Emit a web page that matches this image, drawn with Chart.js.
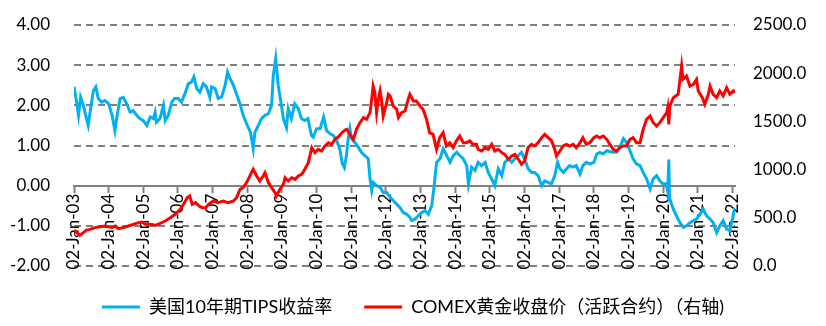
<!DOCTYPE html>
<html>
<head>
<meta charset="utf-8">
<script src="https://cdn.jsdelivr.net/npm/chart.js@4.4.1/dist/chart.umd.min.js"></script>
<style>
  html, body { margin: 0; padding: 0; background: #fff; }
  #wrap { width: 826px; height: 326px; }
</style>
</head>
<body>
<div id="wrap"><canvas id="chart"></canvas></div>
<script>
// x axis ticks (start of each year)
const tickYears = [2003, 2004, 2005, 2006, 2007, 2008, 2009, 2010, 2011, 2012,
  2013, 2014, 2015, 2016, 2017, 2018, 2019, 2020, 2021, 2022];
const tickLabels = ['02-Jan-03', '02-Jan-04', '02-Jan-05', '02-Jan-06', '02-Jan-07',
  '02-Jan-08', '02-Jan-09', '02-Jan-10', '02-Jan-11', '02-Jan-12', '02-Jan-13',
  '02-Jan-14', '02-Jan-15', '02-Jan-16', '02-Jan-17', '02-Jan-18', '02-Jan-19',
  '02-Jan-20', '02-Jan-21', '02-Jan-22'];

// 美国10年期TIPS收益率 (left axis)
const tipsYear = [
  2003.00, 2003.06, 2003.13, 2003.19, 2003.27, 2003.36, 2003.41, 2003.48, 2003.56, 2003.63,
  2003.70, 2003.80, 2003.89, 2004.00, 2004.10, 2004.18, 2004.23, 2004.33, 2004.42, 2004.52,
  2004.62, 2004.71, 2004.81, 2004.90, 2005.00, 2005.10, 2005.20, 2005.29, 2005.34, 2005.38,
  2005.48, 2005.58, 2005.63, 2005.72, 2005.82, 2005.90, 2006.00, 2006.10, 2006.20, 2006.30,
  2006.39, 2006.46, 2006.54, 2006.63, 2006.73, 2006.82, 2006.92, 2006.97, 2007.07, 2007.16,
  2007.26, 2007.36, 2007.43, 2007.50, 2007.60, 2007.70, 2007.79, 2007.88, 2008.00, 2008.09,
  2008.17, 2008.22, 2008.32, 2008.41, 2008.51, 2008.61, 2008.70, 2008.75, 2008.82, 2008.89,
  2008.97, 2009.04, 2009.13, 2009.18, 2009.27, 2009.37, 2009.47, 2009.56, 2009.66, 2009.75,
  2009.85, 2009.90, 2010.00, 2010.10, 2010.20, 2010.29, 2010.39, 2010.48, 2010.58, 2010.67,
  2010.74, 2010.80, 2010.86, 2010.91, 2010.96, 2011.01, 2011.10, 2011.20, 2011.29, 2011.39,
  2011.49, 2011.54, 2011.59, 2011.63, 2011.73, 2011.83, 2011.92, 2012.02, 2012.12, 2012.21,
  2012.31, 2012.40, 2012.50, 2012.60, 2012.69, 2012.74, 2012.84, 2012.93, 2013.03, 2013.13,
  2013.22, 2013.32, 2013.38, 2013.46, 2013.56, 2013.65, 2013.75, 2013.85, 2013.94, 2014.04,
  2014.13, 2014.23, 2014.33, 2014.38, 2014.47, 2014.57, 2014.66, 2014.76, 2014.86, 2014.95,
  2015.05, 2015.14, 2015.24, 2015.34, 2015.43, 2015.53, 2015.63, 2015.72, 2015.82, 2015.91,
  2016.00, 2016.10, 2016.20, 2016.29, 2016.39, 2016.49, 2016.58, 2016.68, 2016.77, 2016.87,
  2016.95, 2017.02, 2017.12, 2017.21, 2017.30, 2017.39, 2017.49, 2017.60, 2017.68, 2017.78,
  2017.88, 2018.00, 2018.08, 2018.17, 2018.27, 2018.37, 2018.46, 2018.56, 2018.65, 2018.75,
  2018.85, 2018.94, 2019.04, 2019.13, 2019.23, 2019.33, 2019.42, 2019.52, 2019.62, 2019.71,
  2019.81, 2019.90, 2020.00, 2020.08, 2020.13, 2020.16, 2020.18, 2020.24, 2020.29, 2020.38,
  2020.48, 2020.58, 2020.67, 2020.77, 2020.87, 2020.96, 2021.06, 2021.15, 2021.25, 2021.35,
  2021.44, 2021.54, 2021.63, 2021.73, 2021.83, 2021.92, 2022.00, 2022.06
];
const tipsYield = [
  2.46, 2.17, 1.75, 2.20, 2.00, 1.67, 1.50, 1.92, 2.37, 2.46,
  2.17, 2.08, 2.12, 2.04, 1.75, 1.37, 1.67, 2.17, 2.20, 2.04,
  1.83, 1.87, 1.75, 1.67, 1.62, 1.50, 1.71, 1.67, 1.83, 1.58,
  1.67, 2.00, 1.62, 1.75, 2.08, 2.17, 2.17, 2.08, 2.29, 2.54,
  2.58, 2.71, 2.42, 2.33, 2.54, 2.46, 2.20, 2.46, 2.42, 2.17,
  2.21, 2.50, 2.83, 2.67, 2.50, 2.25, 2.04, 1.75, 1.50, 1.33,
  0.92, 1.33, 1.50, 1.67, 1.75, 1.79, 2.00, 2.75, 3.17, 2.50,
  2.08, 1.67, 1.45, 1.92, 1.67, 2.04, 1.92, 1.67, 1.62, 1.67,
  1.25, 1.21, 1.42, 1.42, 1.71, 1.37, 1.29, 1.25, 1.12, 0.90,
  0.55, 0.45, 0.75, 1.17, 1.42, 1.17, 1.08, 0.96, 0.83, 0.75,
  0.67, 0.17, -0.12, 0.08, 0.00, -0.04, -0.17, -0.17, -0.29, -0.37,
  -0.46, -0.54, -0.67, -0.71, -0.79, -0.87, -0.83, -0.75, -0.67, -0.62,
  -0.71, -0.50, -0.08, 0.58, 0.67, 0.92, 0.75, 0.58, 0.75, 0.83,
  0.75, 0.67, 0.50, 0.04, 0.46, 0.38, 0.58, 0.50, 0.58, 0.33,
  0.17, 0.00, 0.42, 0.25, 0.58, 0.67, 0.58, 0.67, 0.75, 0.83,
  0.67, 0.42, 0.33, 0.33, 0.25, 0.00, 0.12, 0.08, 0.04, 0.25,
  0.58, 0.42, 0.33, 0.42, 0.50, 0.46, 0.50, 0.29, 0.50, 0.58,
  0.54, 0.58, 0.79, 0.83, 0.79, 0.87, 0.85, 0.83, 0.83, 0.96,
  1.17, 1.08, 0.87, 0.67, 0.54, 0.50, 0.33, 0.17, -0.08, 0.17,
  0.25, 0.12, 0.04, 0.05, -0.15, 0.65, -0.30, -0.46, -0.58, -0.75,
  -0.92, -1.04, -1.00, -0.92, -0.87, -0.83, -0.71, -0.58, -0.75, -0.83,
  -0.92, -1.17, -1.00, -0.87, -1.08, -1.12, -0.83, -0.55
];

// COMEX黄金收盘价 (right axis)
const goldYear = [
  2003.00, 2003.08, 2003.17, 2003.27, 2003.36, 2003.46, 2003.61, 2003.75, 2003.89, 2004.00,
  2004.10, 2004.19, 2004.28, 2004.42, 2004.57, 2004.71, 2004.86, 2004.97, 2005.05, 2005.20,
  2005.34, 2005.49, 2005.63, 2005.78, 2005.92, 2006.02, 2006.13, 2006.27, 2006.34, 2006.41,
  2006.51, 2006.61, 2006.70, 2006.80, 2006.88, 2007.02, 2007.16, 2007.30, 2007.45, 2007.60,
  2007.69, 2007.79, 2007.88, 2007.98, 2008.12, 2008.17, 2008.27, 2008.36, 2008.46, 2008.51,
  2008.61, 2008.70, 2008.80, 2008.84, 2008.94, 2009.04, 2009.09, 2009.18, 2009.28, 2009.38,
  2009.47, 2009.57, 2009.66, 2009.76, 2009.86, 2009.95, 2010.05, 2010.14, 2010.24, 2010.34,
  2010.43, 2010.53, 2010.63, 2010.72, 2010.82, 2010.87, 2010.96, 2011.06, 2011.15, 2011.25,
  2011.35, 2011.44, 2011.54, 2011.59, 2011.63, 2011.68, 2011.73, 2011.78, 2011.83, 2011.87,
  2011.92, 2012.02, 2012.07, 2012.12, 2012.21, 2012.31, 2012.36, 2012.45, 2012.55, 2012.64,
  2012.69, 2012.79, 2012.88, 2012.98, 2013.07, 2013.17, 2013.26, 2013.36, 2013.46, 2013.55,
  2013.65, 2013.74, 2013.84, 2013.94, 2014.03, 2014.13, 2014.23, 2014.32, 2014.42, 2014.51,
  2014.61, 2014.66, 2014.76, 2014.86, 2014.95, 2015.05, 2015.14, 2015.24, 2015.34, 2015.43,
  2015.53, 2015.63, 2015.72, 2015.82, 2015.91, 2016.00, 2016.10, 2016.20, 2016.29, 2016.39,
  2016.49, 2016.58, 2016.68, 2016.78, 2016.87, 2016.92, 2017.02, 2017.11, 2017.21, 2017.30,
  2017.40, 2017.49, 2017.60, 2017.68, 2017.78, 2017.88, 2018.00, 2018.08, 2018.17, 2018.27,
  2018.37, 2018.46, 2018.56, 2018.65, 2018.75, 2018.85, 2018.94, 2019.04, 2019.13, 2019.23,
  2019.33, 2019.42, 2019.52, 2019.62, 2019.71, 2019.81, 2019.90, 2020.00, 2020.10, 2020.13,
  2020.16, 2020.19, 2020.29, 2020.43, 2020.53, 2020.57, 2020.67, 2020.77, 2020.87, 2020.96,
  2021.01, 2021.13, 2021.20, 2021.30, 2021.35, 2021.44, 2021.54, 2021.63, 2021.73, 2021.83,
  2021.92, 2022.02, 2022.07
];
const goldPrice = [
  373, 346, 318, 346, 373, 380, 398, 408, 415, 408,
  398, 415, 387, 398, 415, 432, 450, 456, 432, 432,
  422, 443, 467, 500, 536, 570, 622, 709, 726, 640,
  657, 622, 605, 605, 640, 674, 657, 674, 657, 674,
  709, 795, 813, 865, 968, 1003, 934, 882, 934, 968,
  865, 813, 761, 726, 795, 847, 916, 882, 916, 899,
  934, 951, 1003, 1072, 1228, 1176, 1210, 1193, 1245, 1279,
  1262, 1314, 1340, 1380, 1410, 1418, 1366, 1314, 1418, 1487,
  1539, 1522, 1591, 1729, 1867, 1798, 1591, 1729, 1816, 1729,
  1556, 1694, 1781, 1764, 1660, 1625, 1539, 1591, 1608, 1729,
  1781, 1712, 1712, 1660, 1625, 1522, 1383, 1366, 1210, 1331,
  1383, 1245, 1279, 1228, 1297, 1349, 1279, 1279, 1297, 1262,
  1262, 1210, 1193, 1228, 1210, 1262, 1193, 1210, 1176, 1158,
  1107, 1141, 1158, 1107, 1055, 1089, 1228, 1262, 1245, 1279,
  1331, 1366, 1331, 1297, 1210, 1141, 1193, 1245, 1262, 1245,
  1262, 1228, 1279, 1331, 1262, 1279, 1331, 1349, 1331, 1349,
  1314, 1262, 1210, 1193, 1228, 1245, 1245, 1314, 1331, 1279,
  1279, 1418, 1522, 1556, 1487, 1452, 1487, 1539, 1591, 1643,
  1470, 1660, 1746, 1781, 2075, 1936, 1971, 1867, 1885, 1936,
  1816, 1746, 1677, 1781, 1867, 1781, 1746, 1816, 1764, 1850,
  1781, 1816, 1798
];

const tipsColor = '#00B0F0';
const goldColor = '#FF0000';
const gridGray = '#808080';

Chart.defaults.font.family = 'Lato, "Noto Sans CJK SC", sans-serif';
Chart.defaults.color = '#000';

const toPoints = (xs, ys) => xs.map((x, i) => ({ x: x, y: ys[i] }));

new Chart(document.getElementById('chart'), {
  type: 'line',
  data: {
    datasets: [
      {
        label: '美国10年期TIPS收益率',
        data: toPoints(tipsYear, tipsYield),
        yAxisID: 'y',
        borderColor: tipsColor,
        backgroundColor: tipsColor,
        borderWidth: 3,
        pointRadius: 0,
        order: 1
      },
      {
        label: 'COMEX黄金收盘价（活跃合约）（右轴)',
        data: toPoints(goldYear, goldPrice),
        yAxisID: 'y2',
        borderColor: goldColor,
        backgroundColor: goldColor,
        borderWidth: 3,
        pointRadius: 0,
        order: 0
      }
    ]
  },
  options: {
    responsive: true,
    maintainAspectRatio: false,
    animation: false,
    events: [],
    layout: { padding: { top: 25, left: 0, right: 0, bottom: 0 } },
    scales: {
      x: {
        type: 'linear',
        position: { y: 0 },
        min: 2003,
        max: 2022.07,
        afterBuildTicks: s => { s.ticks = tickYears.map(v => ({ value: v })); },
        afterFit: s => { s.height = 0; },
        grid: { drawOnChartArea: false, drawTicks: true, tickLength: 6, tickColor: gridGray, tickWidth: 2 },
        border: { display: true, color: gridGray, width: 2 },
        ticks: {
          autoSkip: false,
          minRotation: 90,
          maxRotation: 90,
          padding: 2,
          font: { size: 17 },
          callback: v => tickLabels[tickYears.indexOf(v)]
        }
      },
      y: {
        position: 'left',
        min: -2,
        max: 4,
        afterFit: s => { s.width = 74; s.paddingTop = 0; s.paddingBottom = 0; },
        grid: { color: gridGray, lineWidth: 2, drawTicks: false },
        border: { display: false, dash: [7, 5] },
        ticks: { stepSize: 1, padding: 24, font: { size: 17 }, callback: v => v.toFixed(2) }
      },
      y2: {
        position: 'right',
        min: 0,
        max: 2500,
        afterFit: s => { s.width = 91; s.paddingTop = 0; s.paddingBottom = 0; },
        grid: { display: false, drawTicks: false },
        border: { display: false },
        ticks: { stepSize: 500, padding: 18, font: { size: 17 }, callback: v => v.toFixed(1) }
      }
    },
    plugins: {
      tooltip: { enabled: false },
      legend: {
        position: 'bottom',
        labels: {
          font: { size: 18 },
          color: '#000',
          boxWidth: 38,
          boxHeight: 3,
          padding: 32,
          sort: (a, b) => a.datasetIndex - b.datasetIndex,
          generateLabels: chart => Chart.defaults.plugins.legend.labels.generateLabels(chart)
            .map(item => Object.assign(item, { lineWidth: 0 }))
        }
      }
    }
  }
});
</script>
</body>
</html>
